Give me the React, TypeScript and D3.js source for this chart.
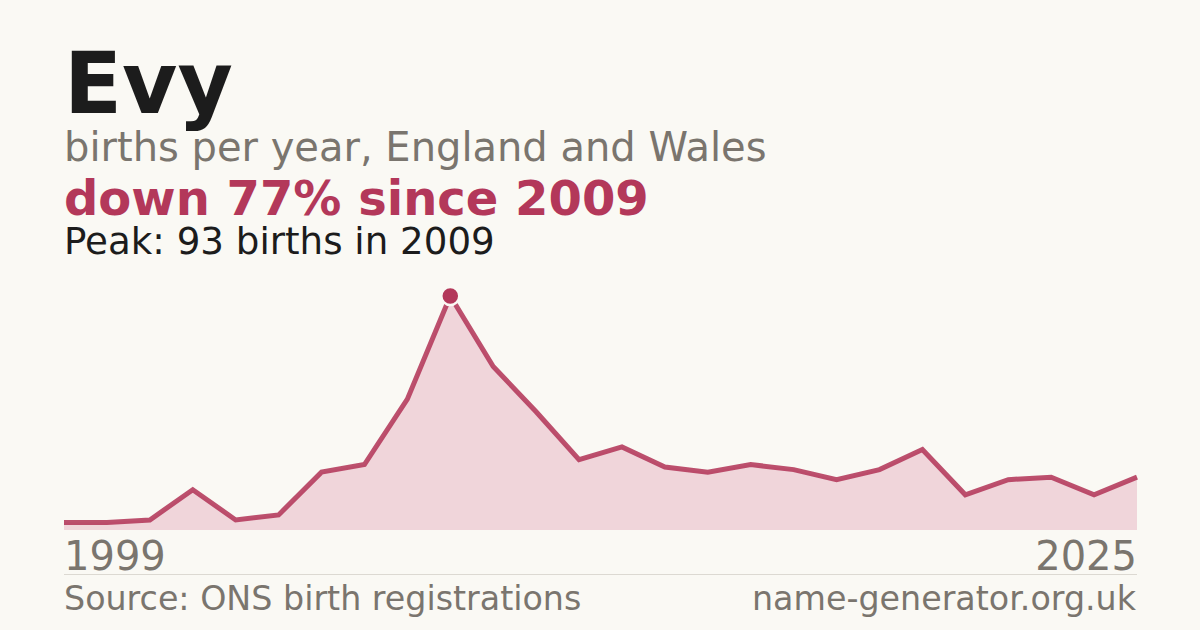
import * as d3 from 'd3';

// Evy births per year (one early year is not reported by ONS)
const YEARS = [
  '1999', '2000', '2001', '2002', '2003', '2004', '2005', '2006', '2008', '2009',
  '2010', '2011', '2012', '2013', '2014', '2015', '2016', '2017', '2018', '2019',
  '2020', '2021', '2022', '2023', '2024', '2025',
];
const BIRTHS = [3, 3, 4, 16, 4, 6, 23, 26, 52, 93, 65, 47, 28, 33, 25, 23, 26, 24, 20, 24, 32, 14, 20, 21, 14, 21];

const NAME = 'Evy';
const SUBTITLE = 'births per year, England and Wales';
const HEADLINE = 'down 77% since 2009';
const PEAK_TEXT = 'Peak: 93 births in 2009';
const SOURCE = 'Source: ONS birth registrations';
const SITE = 'name-generator.org.uk';

const WIDTH = 1200;
const HEIGHT = 630;
const LEFT = 64;
const RIGHT = 1137;
const BOTTOM = 530;
const TOP = 296;

const BG = '#faf9f4';
const RED = '#b3385a';
const GREY = '#7a756e';
const FONT = '"DejaVu Sans", sans-serif';

export default function App() {
  const data = YEARS.map((y, i) => ({ year: y, value: BIRTHS[i] }));

  const x = d3.scalePoint<string>().domain(YEARS).range([LEFT, RIGHT]);
  const y = d3
    .scaleLinear()
    .domain([0, d3.max(BIRTHS) ?? 1])
    .range([BOTTOM, TOP]);

  const line = d3
    .line<{ year: string; value: number }>()
    .x((d) => x(d.year) ?? 0)
    .y((d) => y(d.value));
  const area = d3
    .area<{ year: string; value: number }>()
    .x((d) => x(d.year) ?? 0)
    .y0(y(0))
    .y1((d) => y(d.value));

  const peak = data.reduce((a, b) => (b.value > a.value ? b : a));

  return (
    <svg
      width={WIDTH}
      height={HEIGHT}
      viewBox={`0 0 ${WIDTH} ${HEIGHT}`}
      style={{ position: 'absolute', left: 0, top: 0, display: 'block' }}
      fontFamily={FONT}
    >
      <rect width={WIDTH} height={HEIGHT} fill={BG} />

      {/* Header */}
      <text x={LEFT} y={113} fontSize={85} fontWeight={700} fill="#1c1c1c">
        {NAME}
      </text>
      <text x={LEFT} y={161} fontSize={40} fill={GREY}>
        {SUBTITLE}
      </text>
      <text x={LEFT} y={215} fontSize={48} fontWeight={700} fill={RED}>
        {HEADLINE}
      </text>
      <text x={LEFT} y={254} fontSize={37.2} fill="#1c1c1c">
        {PEAK_TEXT}
      </text>

      {/* Area + line */}
      <path d={area(data) ?? ''} fill="#f0d5da" />
      <path
        d={line(data) ?? ''}
        fill="none"
        stroke={RED}
        strokeOpacity={0.88}
        strokeWidth={5}
        strokeLinejoin="miter"
      />

      {/* Peak marker */}
      <circle
        cx={x(peak.year)}
        cy={y(peak.value)}
        r={9}
        fill={RED}
        stroke={BG}
        strokeWidth={2.5}
      />

      {/* Axis labels */}
      <text x={LEFT} y={570} fontSize={40} fill={GREY}>
        {YEARS[0]}
      </text>
      <text x={RIGHT} y={570} fontSize={40} fill={GREY} textAnchor="end">
        {YEARS[YEARS.length - 1]}
      </text>

      <line x1={LEFT} x2={RIGHT} y1={574.5} y2={574.5} stroke="#dcd9d2" strokeWidth={1} />

      {/* Footer */}
      <text x={LEFT} y={610} fontSize={33.3} fill={GREY}>
        {SOURCE}
      </text>
      <text x={RIGHT - 1} y={610} fontSize={33.3} fill={GREY} textAnchor="end">
        {SITE}
      </text>
    </svg>
  );
}
